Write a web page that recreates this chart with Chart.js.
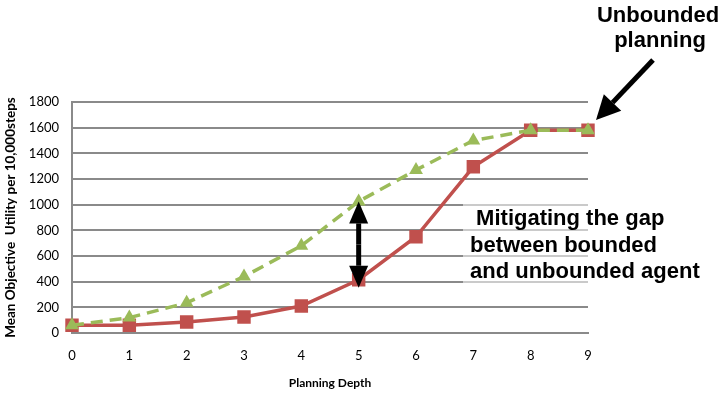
<!DOCTYPE html>
<html>
<head>
<meta charset="utf-8">
<script src="https://cdn.jsdelivr.net/npm/chart.js@4/dist/chart.umd.min.js"></script>
<style>
  html, body { margin: 0; padding: 0; background: #fff; }
  #wrap { width: 723px; height: 393px; position: relative; }
</style>
</head>
<body>
<div id="wrap"><canvas id="c" width="723" height="393"></canvas></div>
<script>
// Planning depth on the x axis
const depths = ['0', '1', '2', '3', '4', '5', '6', '7', '8', '9'];
// Mean objective utility per 10,000 steps
const boundedAgent = [60, 60, 85, 125, 210, 415, 750, 1295, 1580, 1580];
const unboundedAgent = [60, 120, 235, 440, 680, 1025, 1270, 1500, 1580, 1580];
const yTicks = [0, 200, 400, 600, 800, 1000, 1200, 1400, 1600, 1800];

const gapDepth = 5;

function drawArrow(ctx, x1, y1, x2, y2, headLen, headW, lineW) {
  const ang = Math.atan2(y2 - y1, x2 - x1);
  const bx = x2 - headLen * Math.cos(ang);
  const by = y2 - headLen * Math.sin(ang);
  ctx.beginPath();
  ctx.moveTo(x1, y1);
  ctx.lineTo(bx, by);
  ctx.lineWidth = lineW;
  ctx.strokeStyle = '#000';
  ctx.stroke();
  ctx.beginPath();
  ctx.moveTo(x2, y2);
  ctx.lineTo(bx + headW / 2 * Math.sin(ang), by - headW / 2 * Math.cos(ang));
  ctx.lineTo(bx - headW / 2 * Math.sin(ang), by + headW / 2 * Math.cos(ang));
  ctx.closePath();
  ctx.fillStyle = '#000';
  ctx.fill();
}

const notes = {
  id: 'notes',
  afterDatasetsDraw(chart) {
    const ctx = chart.ctx;
    const xs = chart.scales.x, ys = chart.scales.y;
    ctx.save();
    // faded panel behind the gap caption
    ctx.fillStyle = 'rgba(255,255,255,0.55)';
    ctx.fillRect(463, 199, 130, 90);

    ctx.fillStyle = '#000';
    ctx.font = 'bold 22px "Liberation Sans", Arial, sans-serif';
    ctx.textAlign = 'left';
    ctx.textBaseline = 'alphabetic';
    ctx.fillText(' Mitigating the gap', 470, 225);
    ctx.fillText('between bounded', 470, 252);
    ctx.fillText('and unbounded agent', 470, 278);

    ctx.textAlign = 'center';
    ctx.fillText('Unbounded', 658, 22);
    ctx.fillText('planning', 660, 47);

    // arrow pointing at the unbounded end of the curves
    drawArrow(ctx, 653, 60, 596, 120, 24, 24, 5);

    // double arrow spanning the gap at the chosen depth
    const gx = xs.getPixelForValue(gapDepth);
    const yTop = ys.getPixelForValue(unboundedAgent[gapDepth]);
    const yBot = ys.getPixelForValue(boundedAgent[gapDepth]) + 8;
    const mid = (yTop + yBot) / 2;
    drawArrow(ctx, gx, mid, gx, yTop, 22, 19, 5);
    drawArrow(ctx, gx, mid, gx, yBot, 22, 19, 5);
    ctx.restore();
  }
};

new Chart(document.getElementById('c'), {
  type: 'line',
  data: {
    labels: depths,
    datasets: [
      {
        label: 'Bounded',
        data: boundedAgent,
        borderColor: '#C0504D',
        backgroundColor: '#C0504D',
        borderWidth: 3.5,
        pointStyle: 'rect',
        pointRadius: 9.5,
        pointBorderWidth: 0,
        tension: 0,
        order: 2
      },
      {
        label: 'Unbounded',
        data: unboundedAgent,
        borderColor: '#9BBB59',
        backgroundColor: '#9BBB59',
        borderWidth: 3.5,
        borderDash: [12, 7],
        pointStyle: 'triangle',
        pointRadius: 8,
        pointBorderWidth: 0,
        tension: 0,
        order: 1
      }
    ]
  },
  options: {
    responsive: false,
    animation: false,
    devicePixelRatio: 1,
    layout: { padding: { left: 0, right: 135, top: 102, bottom: 0 } },
    plugins: { legend: { display: false }, tooltip: { enabled: false } },
    scales: {
      x: {
        offset: false,
        grid: { display: false, drawTicks: false },
        border: { color: '#8a8a8a', width: 2 },
        ticks: { color: '#000', padding: 15, font: { family: 'Lato, "Open Sans", sans-serif', size: 13 } },
        title: {
          display: true,
          text: 'Planning Depth',
          color: '#000',
          font: { family: 'Lato, "Open Sans", sans-serif', size: 12, weight: 'bold' },
          padding: { top: 0, bottom: 3 }
        },
        afterFit(scale) { scale.height = 60; }
      },
      y: {
        min: 0,
        max: 1800,
        afterBuildTicks(scale) { scale.ticks = yTicks.map(v => ({ value: v })); },
        grid: { color: '#8a8a8a', lineWidth: 2, drawTicks: false },
        border: { color: '#8a8a8a', width: 2 },
        ticks: {
          color: '#000',
          padding: 13,
          font: { family: 'Lato, "Open Sans", sans-serif', size: 13 },
          callback: v => String(v)
        },
        title: {
          display: true,
          text: 'Mean Objective  Utility per 10,000steps',
          color: '#000',
          font: { family: 'Lato, "Open Sans", sans-serif', size: 13.5, weight: 'bold' },
          padding: { top: 3, bottom: 0 }
        },
        afterFit(scale) { scale.width = 72; }
      }
    }
  },
  plugins: [notes]
});
</script>
</body>
</html>
